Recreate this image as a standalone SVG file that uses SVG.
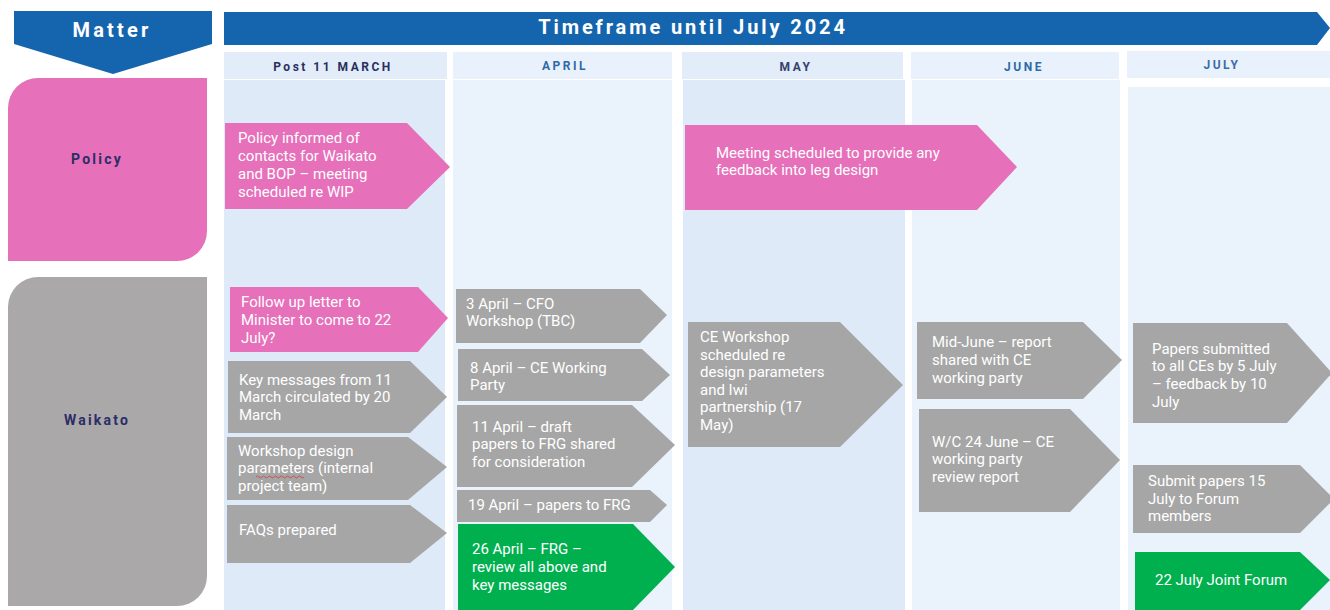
<svg xmlns="http://www.w3.org/2000/svg" width="1330" height="610" viewBox="0 0 1330 610">
<defs>
<style>
.hdr{fill:#1565ae}
.colA{fill:#dfeaf8}
.colB{fill:#eaf3fc}
.mh{fill:#e2edf9}
.mhB{fill:#e9f2fc}
.pink{fill:#e670ba}
.gray{fill:#a6a6a6}
.green{fill:#00b04f}
.t{font-family:Roboto,"Noto Sans",sans-serif;font-size:15px;fill:#ffffff}
.ht{font-family:Roboto,"Noto Sans",sans-serif;font-weight:bold;fill:#ffffff;text-anchor:middle}
.mt{font-family:Roboto,"Noto Sans",sans-serif;font-weight:bold;font-size:12px;letter-spacing:2.5px;text-anchor:middle}
.rt{font-family:Roboto,"Noto Sans",sans-serif;font-weight:bold;font-size:14px;letter-spacing:2.2px;fill:#2b2d66;text-anchor:middle}
</style>
</defs>
<rect width="1330" height="610" fill="#ffffff"/>

<g id="columns">
<rect class="colA" x="224" y="80" width="221" height="530"/>
<rect class="colB" x="453" y="80" width="219" height="530"/>
<rect class="colA" x="683" y="80" width="222" height="530"/>
<rect class="colB" x="912" y="80" width="208" height="530"/>
<rect class="colB" x="1128" y="87" width="202" height="523"/>
</g>

<g id="header-matter">
<path class="hdr" d="M14,11 H212 V44 L113,74 L14,44 Z"/>
<text class="ht" x="112" y="37" font-size="20" letter-spacing="3.2">Matter</text>
</g>
<g id="header-timeframe">
<path class="hdr" d="M224,12 H1317 L1330,28 L1317,45 H224 Z"/>
<text class="ht" x="693" y="34" font-size="20" letter-spacing="2.9">Timeframe until July 2024</text>
</g>

<g id="month-post11march">
<rect class="mh" x="224" y="52" width="223" height="27"/>
<text class="mt" x="333" y="71" fill="#2a2f5e">Post 11 MARCH</text>
</g>
<g id="month-april">
<rect class="mhB" x="453" y="52" width="219" height="27"/>
<text class="mt" x="565" y="70" fill="#2e6aa8">APRIL</text>
</g>
<g id="month-may">
<rect class="mh" x="682" y="52" width="221" height="27"/>
<text class="mt" x="796" y="71" fill="#35416e">MAY</text>
</g>
<g id="month-june">
<rect class="mhB" x="911" y="52" width="208" height="27"/>
<text class="mt" x="1024" y="71" fill="#2e6aa8">JUNE</text>
</g>
<g id="month-july">
<rect class="mhB" x="1127" y="51" width="203" height="27"/>
<text class="mt" x="1222" y="69" fill="#3a6ea6">JULY</text>
</g>

<g id="row-policy">
<path class="pink" d="M38,78 H207 V231 A30,30 0 0 1 177,261 H8 V108 A30,30 0 0 1 38,78 Z"/>
<text class="rt" x="97" y="164">Policy</text>
</g>
<g id="row-waikato">
<path fill="#aaa8a9" d="M38,277 H207 V576 A30,30 0 0 1 177,606 H8 V307 A30,30 0 0 1 38,277 Z"/>
<text class="rt" x="97" y="425">Waikato</text>
</g>

<g id="connectors"></g>

<g id="n1">
<path class="pink" d="M225,123 H407 L450,167 L407,209 H225 Z"/>
<text class="t" x="238" y="143">Policy informed of</text>
<text class="t" x="238" y="161">contacts for Waikato</text>
<text class="t" x="238" y="179">and BOP – meeting</text>
<text class="t" x="238" y="197">scheduled re WIP</text>
</g>
<g id="n2">
<path class="pink" d="M685,125 H977 L1017,167 L977,210 H685 Z"/>
<text class="t" x="716" y="158">Meeting scheduled to provide any</text>
<text class="t" x="716" y="175">feedback into leg design</text>
</g>

<g id="n3">
<path class="pink" d="M230,287 H418 L448,318 L418,352 H230 Z"/>
<text class="t" x="241" y="307">Follow up letter to</text>
<text class="t" x="241" y="325">Minister to come to 22</text>
<text class="t" x="241" y="343">July?</text>
</g>
<g id="n4">
<path class="gray" d="M228,361 H410 L447,397 L410,433 H228 Z"/>
<text class="t" x="239" y="385">Key messages from 11</text>
<text class="t" x="239" y="402">March circulated by 20</text>
<text class="t" x="239" y="420">March</text>
</g>
<g id="n5">
<path class="gray" d="M227,437 H408 L447,467 L408,500 H227 Z"/>
<text class="t" x="238" y="456">Workshop design</text>
<text class="t" x="238" y="473">parameters (internal</text>
<text class="t" x="238" y="491">project team)</text>
<path d="M256,477 q1.5,-2 3,0 t3,0 t3,0 t3,0 t3,0 t3,0 t3,0 t3,0 t3,0 t3,0 t3,0 t3,0 t3,0 t3,0 t3,0 t3,0" fill="none" stroke="#d23c3c" stroke-width="0.8"/>
</g>
<g id="n6">
<path class="gray" d="M227,505 H410 L447,533 L410,563 H227 Z"/>
<text class="t" x="239" y="535">FAQs prepared</text>
</g>

<g id="n7">
<path class="gray" d="M456,289 H640 L667,315 L640,343 H456 Z"/>
<text class="t" x="466" y="309">3 April – CFO</text>
<text class="t" x="466" y="326">Workshop (TBC)</text>
</g>
<g id="n8">
<path class="gray" d="M458,349 H642 L670,375 L642,401 H458 Z"/>
<text class="t" x="470" y="373">8 April – CE Working</text>
<text class="t" x="470" y="390">Party</text>
</g>
<g id="n9">
<path class="gray" d="M457,405 H632 L675,445 L632,487 H457 Z"/>
<text class="t" x="472" y="432">11 April – draft</text>
<text class="t" x="472" y="449">papers to FRG shared</text>
<text class="t" x="472" y="467">for consideration</text>
</g>
<g id="n10">
<path class="gray" d="M457,490 H650 L667,505 L650,522 H457 Z"/>
<text class="t" x="468" y="510">19 April – papers to FRG</text>
</g>
<g id="n11">
<path class="green" d="M458,524 H633 L675,567 L633,610 H458 Z"/>
<text class="t" x="472" y="554">26 April – FRG –</text>
<text class="t" x="472" y="572">review all above and</text>
<text class="t" x="472" y="590">key messages</text>
</g>

<g id="n12">
<path class="gray" d="M688,322 H840 L903,385 L840,447 H688 Z"/>
<text class="t" x="700" y="342">CE Workshop</text>
<text class="t" x="700" y="360">scheduled re</text>
<text class="t" x="700" y="377">design parameters</text>
<text class="t" x="700" y="395">and Iwi</text>
<text class="t" x="700" y="412">partnership (17</text>
<text class="t" x="700" y="430">May)</text>
</g>

<g id="n13">
<path class="gray" d="M917,322 H1083 L1122,360 L1083,399 H917 Z"/>
<text class="t" x="932" y="347">Mid-June – report</text>
<text class="t" x="932" y="365">shared with CE</text>
<text class="t" x="932" y="383">working party</text>
</g>
<g id="n14">
<path class="gray" d="M919,409 H1070 L1120,460 L1070,512 H919 Z"/>
<text class="t" x="932" y="447">W/C 24 June – CE</text>
<text class="t" x="932" y="464">working party</text>
<text class="t" x="932" y="482">review report</text>
</g>

<g id="n15">
<path class="gray" d="M1133,323 H1287 L1332,373 L1287,423 H1133 Z"/>
<text class="t" x="1152" y="354">Papers submitted</text>
<text class="t" x="1152" y="371">to all CEs by 5 July</text>
<text class="t" x="1152" y="389">– feedback by 10</text>
<text class="t" x="1152" y="407">July</text>
</g>
<g id="n16">
<path class="gray" d="M1133,465 H1300 L1334,499 L1300,533 H1133 Z"/>
<text class="t" x="1148" y="486">Submit papers 15</text>
<text class="t" x="1148" y="504">July to Forum</text>
<text class="t" x="1148" y="521">members</text>
</g>
<g id="n17">
<path class="green" d="M1135,552 H1300 L1330,580 L1300,610 H1135 Z"/>
<text class="t" x="1155" y="585">22 July Joint Forum</text>
</g>
</svg>
